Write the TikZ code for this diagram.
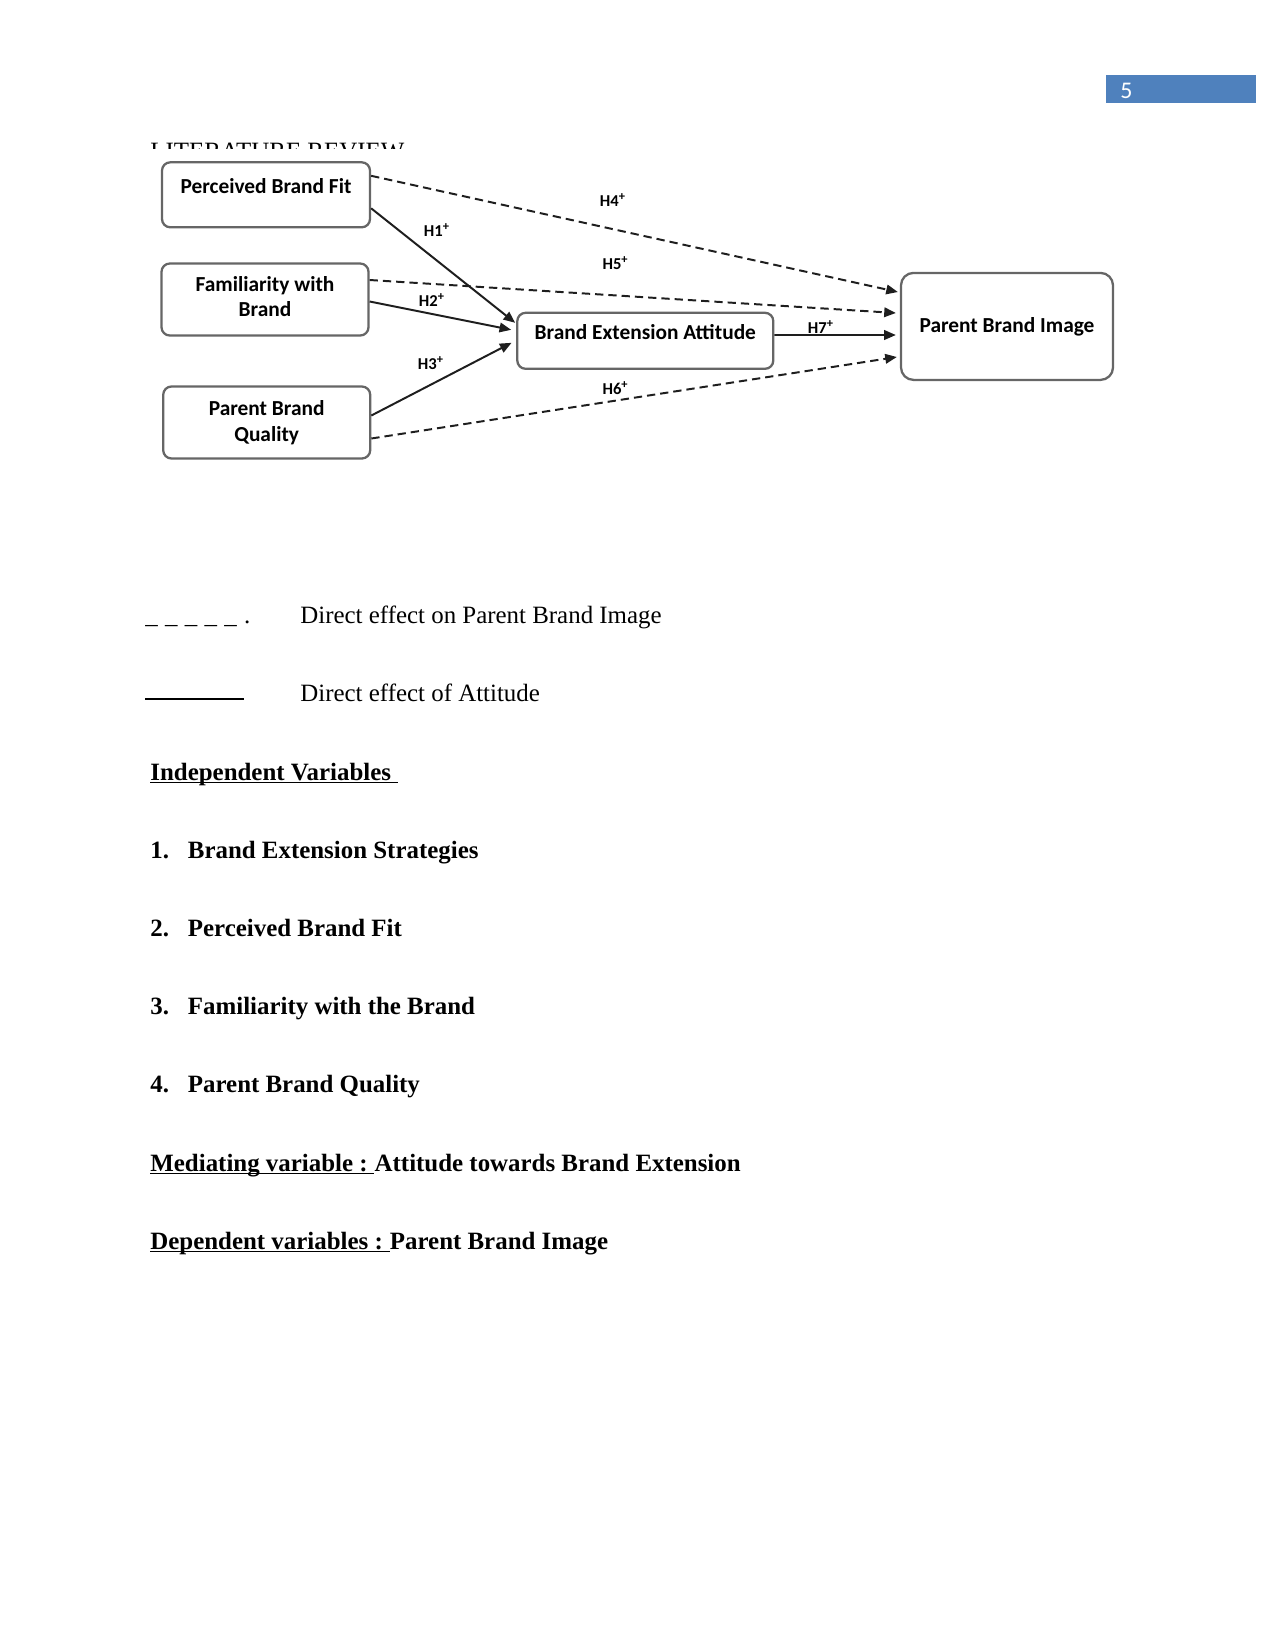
\documentclass[tikz,border=0pt]{standalone}
\usepackage{fontspec}
\setmainfont{Liberation Serif}
\newfontfamily\calfont{Carlito}
\usetikzlibrary{arrows.meta,positioning,calc}
\definecolor{pageBlue}{HTML}{4F81BD}
\definecolor{boxEdge}{HTML}{666666}
\definecolor{lineInk}{HTML}{1E1E1E}
\newlength{\pxu}
\setlength{\pxu}{0.16933mm}
\tikzset{
  every picture/.style={text=black},
  var box/.style={draw=boxEdge, line width=1.1pt, rounded corners=4pt,
    fill=white, align=center, inner sep=0pt,
    font=\calfont\bfseries\fontsize{10.3}{12.4}\selectfont},
  hyp label/.style={inner sep=0pt, font=\calfont\bfseries\fontsize{8}{9}\selectfont},
  effect solid/.style={-{Triangle[length=5.6pt,width=4.6pt]},
    draw=lineInk, line width=0.95pt},
  effect dashed/.style={effect solid, dash pattern=on 4pt off 2.4pt},
  body text/.style={inner sep=0pt, anchor=base west,
    font=\fontsize{12}{14}\selectfont},
  body head/.style={body text, font=\bfseries\fontsize{12}{14}\selectfont},
  head rule/.style={draw=black, line width=0.6pt}
}

\begin{document}
\begin{tikzpicture}[x=0.16933mm,y=-0.16933mm]
  \useasboundingbox (0,0) rectangle (1275,1650);

  % page number tab
  \fill[pageBlue] (1106,75) rectangle (1256,103);
  \node[inner sep=0pt, anchor=base west, text=white,
    font=\calfont\fontsize{11.5}{13}\selectfont] (pagenum) at (1120,98) {5};

  % section title, mostly hidden behind the figure
  \begin{scope}
    \clip (140,138) rectangle (430,148.3);
    \node[body text] (littitle) at (150,159.8) {LITERATURE REVIEW};
  \end{scope}

  % variables
  \node[var box, minimum width=208\pxu, minimum height=65\pxu,
    text height=7pt, text depth=8.5pt] (pbf) at (266,194.8) {Perceived Brand Fit};
  \node[var box, minimum width=207\pxu, minimum height=72\pxu,
    text depth=3pt] (fwb) at (265,299.5) {Familiarity with\\Brand};
  \node[var box, minimum width=207\pxu, minimum height=72\pxu] (pbq) at (266.7,422.5) {Parent Brand\\Quality};
  \node[var box, minimum width=256\pxu, minimum height=56\pxu,
    text height=7pt, text depth=8pt] (bea) at (645.3,340.8) {Brand Extension Attitude};
  \node[var box, rounded corners=6pt, minimum width=212\pxu,
    minimum height=107\pxu] (pbi) at (1007,326.4) {Parent Brand Image};

  % hypotheses
  \draw[effect solid] ($(pbf.east)+(0,13.5)$) -- ($(bea.west)+(-1,-18)$);
  \draw[effect solid] ($(fwb.east)+(0,2)$) -- ($(bea.west)+(-5,-11)$);
  \draw[effect solid] ($(pbq.east)+(0,-7)$) -- ($(bea.west)+(-4.6,2)$);
  \draw[effect dashed] ($(pbf.east)+(0,-19)$) -- ($(pbi.west)+(-2,-34.4)$);
  \draw[effect dashed] ($(fwb.east)+(0,-19.5)$) -- ($(pbi.west)+(-4,-13.4)$);
  \draw[effect dashed] ($(pbq.east)+(0,16)$) -- ($(pbi.west)+(-3,30.6)$);
  \draw[effect solid] ($(bea.east)+(0,-5.8)$) -- ($(pbi.west)+(-4,8.6)$);

  \node[hyp label] (h1lab) at (437,230) {H1\textsuperscript{+}};
  \node[hyp label] (h2lab) at (432,300) {H2\textsuperscript{+}};
  \node[hyp label] (h3lab) at (431,363) {H3\textsuperscript{+}};
  \node[hyp label] (h4lab) at (613,200) {H4\textsuperscript{+}};
  \node[hyp label] (h5lab) at (615.6,262.7) {H5\textsuperscript{+}};
  \node[hyp label] (h6lab) at (615.6,388.3) {H6\textsuperscript{+}};
  \node[hyp label] (h7lab) at (821,326.7) {H7\textsuperscript{+}};

  % legend
  \node[body text] (legdash) at (145,623)
    {\_\kern3.5pt\_\kern3.5pt\_\kern3.5pt\_\kern3.5pt\_\kern3.5pt.};
  \node[body text] (legdashtxt) at (300,623) {Direct effect on Parent Brand Image};
  \draw[line width=0.6pt] (145,699) -- (244,699);
  \node[body text] (legsolidtxt) at (300,701) {Direct effect of Attitude};

  % variable list
  \node[body head] (indep) at (150,780) {Independent Variables\kern.25em};
  \draw[head rule] ($(indep.base west)+(0,2.5)$) -- ($(indep.base east)+(0,2.5)$);
  \foreach \idx/\varname [count=\k] in {1/Brand Extension Strategies,
      2/Perceived Brand Fit, 3/Familiarity with the Brand, 4/Parent Brand Quality} {
    \node[body head] (num\k) at (150,780+78.2*\k) {\idx.};
    \node[body head] (var\k) at (187.5,780+78.2*\k) {\varname};
  }

  \node[body head] (medlab) at (150,1171) {Mediating variable :\kern.25em};
  \draw[head rule] ($(medlab.base west)+(0,2.5)$) -- ($(medlab.base east)+(0,2.5)$);
  \node[body head] (medvar) at (medlab.base east) {Attitude towards Brand Extension};

  \node[body head] (deplab) at (150,1249.2) {Dependent variables :\kern.25em};
  \draw[head rule] ($(deplab.base west)+(0,2.5)$) -- ($(deplab.base east)+(0,2.5)$);
  \node[body head] (depvar) at (deplab.base east) {Parent Brand Image};
\end{tikzpicture}
\end{document}
